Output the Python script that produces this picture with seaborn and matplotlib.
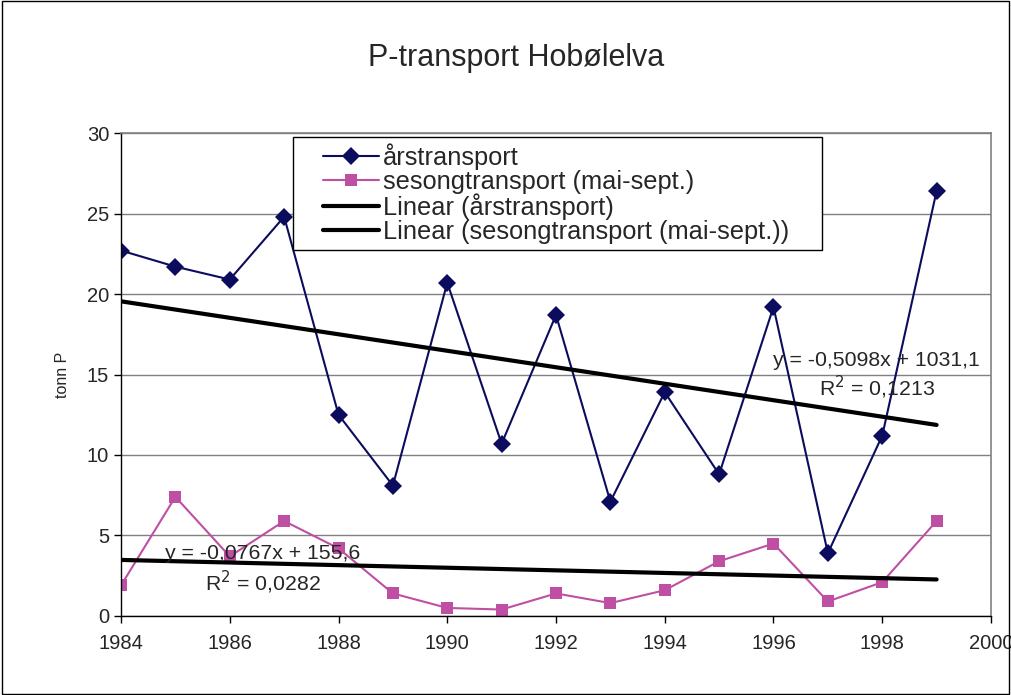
import numpy as np
import pandas as pd
import seaborn as sns
import matplotlib.pyplot as plt
from matplotlib.patches import Rectangle

# values
years = [1984, 1985, 1986, 1987, 1988, 1989, 1990, 1991,
         1992, 1993, 1994, 1995, 1996, 1997, 1998, 1999]
arstransport = [22.7, 21.7, 20.9, 24.8, 12.5, 8.1, 20.7, 10.7,
                18.7, 7.1, 13.9, 8.8, 19.2, 3.9, 11.2, 26.4]
sesongtransport = [1.9, 7.4, 3.7, 5.9, 4.2, 1.4, 0.5, 0.4,
                   1.4, 0.8, 1.6, 3.4, 4.5, 0.9, 2.1, 5.9]

lab_ar = 'årstransport'
lab_ses = 'sesongtransport (mai-sept.)'

df = pd.DataFrame({'year': years, 'ar': arstransport, 'ses': sesongtransport})

sns.set_style('white')
plt.rcParams['font.family'] = ['Liberation Sans', 'DejaVu Sans']

fig = plt.figure(figsize=(10.11, 6.95), dpi=100)
ax = fig.add_axes([0.1197, 0.1137, 0.8605, 0.6949])

navy = '#0c0c5e'
pink = '#bf4fa3'

sns.lineplot(x='year', y='ar', data=df, ax=ax, color=navy, marker='D',
             markersize=9, markeredgewidth=0, linewidth=1.5, label=lab_ar)
sns.lineplot(x='year', y='ses', data=df, ax=ax, color=pink, marker='s',
             markersize=9, markeredgewidth=0, linewidth=1.5, label=lab_ses)

# linear trend lines
sns.regplot(x='year', y='ar', data=df, ax=ax, scatter=False, ci=None,
            line_kws={'color': 'black', 'linewidth': 3})
ax.lines[-1].set_label('Linear (årstransport)')
sns.regplot(x='year', y='ses', data=df, ax=ax, scatter=False, ci=None,
            line_kws={'color': 'black', 'linewidth': 3})
ax.lines[-1].set_label('Linear (sesongtransport (mai-sept.))')

ax.set_xlim(1984, 2000)
ax.set_ylim(0, 30)
ax.set_xticks(range(1984, 2001, 2))
ax.set_yticks(range(0, 31, 5))
ax.yaxis.grid(True, color='#808080', linewidth=1)
ax.set_axisbelow(True)
ax.tick_params(axis='both', labelsize=14.5, direction='out', length=5,
               width=1, color='black', left=True, bottom=True)
ax.tick_params(axis='x', pad=8)
ax.set_xlabel('')
ax.set_ylabel('tonn P', fontsize=11.5, labelpad=12)
for s in ['left', 'bottom']:
    ax.spines[s].set_color('black')
    ax.spines[s].set_linewidth(1)
for s in ['right', 'top']:
    ax.spines[s].set_color('#808080')
    ax.spines[s].set_linewidth(1.2)

fig.text(0.511, 0.916, 'P-transport Hobølelva', fontsize=22,
         ha='center', va='center')

# trend equations
ax.text(1997.9, 15.9, 'y = -0,5098x + 1031,1', fontsize=15.3, ha='center',
        va='center')
ax.text(1997.9, 14.2, 'R$^2$ = 0,1213', fontsize=15.3, ha='center',
        va='center')
ax.text(1986.6, 3.85, 'y = -0,0767x + 155,6', fontsize=15.3, ha='center',
        va='center')
ax.text(1986.6, 2.1, 'R$^2$ = 0,0282', fontsize=15.3, ha='center',
        va='center')

# legend box drawn separately so the entries can sit inset like the original
ax.add_patch(Rectangle((293 / 1011, 1 - 250 / 695), 529 / 1011, 113 / 695,
                       facecolor='white', edgecolor='black', linewidth=1,
                       transform=fig.transFigure, clip_on=False, zorder=6))
leg = ax.legend(loc='upper left', bbox_to_anchor=(323 / 1011, 1 - 143 / 695),
                bbox_transform=fig.transFigure, fontsize=18.3, frameon=False,
                handlelength=2.2, handletextpad=0.15, labelspacing=0,
                borderpad=0, borderaxespad=0)
leg.set_zorder(7)

# outer border of the chart
fig.patches.append(Rectangle((0.002, 0.002), 0.996, 0.996, fill=False,
                             edgecolor='black', linewidth=1,
                             transform=fig.transFigure, figure=fig))

fig.savefig('out.png', dpi=100)
